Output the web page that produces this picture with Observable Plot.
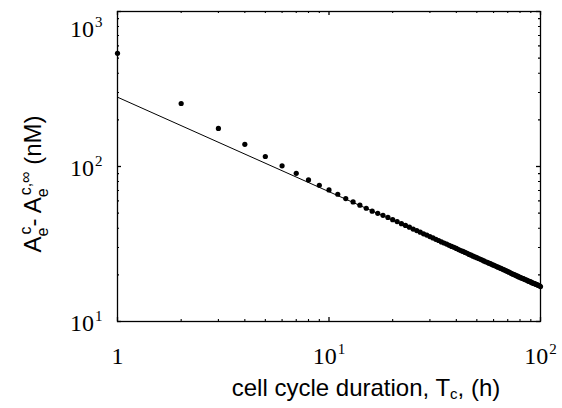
<!DOCTYPE html>
<html>
<head>
<meta charset="utf-8">
<script src="https://cdn.jsdelivr.net/npm/d3@7"></script>
<script src="https://cdn.jsdelivr.net/npm/@observablehq/plot@0.6"></script>
<style>
  html, body { margin: 0; padding: 0; background: #fff; }
  svg { display: block; }
</style>
</head>
<body>
<div id="chart"></div>
<script>
// ---- data ----
const cycleDuration = [1,2,3,4,5,6,7,8,9,10,11,12,13,14,15,16,17,18,19,20,21,22,23,24,25,26,27,28,29,30,31,32,33,34,35,36,37,38,39,40,41,42,43,44,45,46,47,48,49,50,51,52,53,54,55,56,57,58,59,60,61,62,63,64,65,66,67,68,69,70,71,72,73,74,75,76,77,78,79,80,81,82,83,84,85,86,87,88,89,90,91,92,93,94,95,96,97,98,99,100];
const deltaA = [537,255,176,139,116,101,90.4,81.9,75.7,70.6,66.2,62.1,59.1,56.3,53.8,51.5,49.9,48.4,46.9,45.4,44.1,42.8,41.7,40.6,39.5,38.6,37.7,36.8,36.1,35.3,34.6,33.9,33.3,32.6,32.1,31.6,31.0,30.5,30.1,29.6,29.1,28.7,28.3,27.9,27.5,27.1,26.8,26.4,26.1,25.8,25.5,25.2,24.9,24.6,24.3,24.1,23.8,23.6,23.3,23.1,22.9,22.6,22.4,22.2,22.0,21.8,21.6,21.4,21.2,21.0,20.8,20.6,20.4,20.2,20.1,19.9,19.7,19.6,19.4,19.3,19.1,19.0,18.9,18.7,18.6,18.5,18.3,18.2,18.1,18.0,17.8,17.7,17.6,17.5,17.4,17.3,17.2,17.1,17.0,16.8];
const fitX = [1, 100];
const fitY = [280, 16.9];
const xMajor = [1, 10, 100];
const xMinor = [2,3,4,5,6,7,8,9,20,30,40,50,60,70,80,90];
const yMajor = [10, 100, 1000];
const yMinor = [20,30,40,50,60,70,80,90,200,300,400,500,600,700,800,900];
const xTickLabels = ["1", "10^1", "10^2"];
const yTickLabels = ["10^1", "10^2", "10^3"];

const points = cycleDuration.map((x, i) => ({x, y: deltaA[i]}));
const fit = fitX.map((x, i) => ({x, y: fitY[i]}));

const W = 562, H = 408;
const mL = 117, mR = 22, mT = 11, mB = 87;
const pw = W - mL - mR, ph = H - mT - mB;
const serif = "Liberation Serif, Times New Roman, serif";

const svg = Plot.plot({
  width: W, height: H,
  marginLeft: mL, marginRight: mR, marginTop: mT, marginBottom: mB,
  style: {background: "#fff", color: "#000", overflow: "visible"},
  x: {type: "log", domain: [1, 100]},
  y: {type: "log", domain: [10, 1000]},
  marks: [
    Plot.frame({stroke: "#000", strokeWidth: 1.3}),
    // inward ticks on all four sides
    Plot.ruleX(xMajor, {insetTop: ph - 4, stroke: "#000", strokeWidth: 1.3}),
    Plot.ruleX(xMajor, {insetBottom: ph - 4, stroke: "#000", strokeWidth: 1.3}),
    Plot.ruleX(xMinor, {insetTop: ph - 2, stroke: "#000", strokeWidth: 1.1}),
    Plot.ruleX(xMinor, {insetBottom: ph - 2, stroke: "#000", strokeWidth: 1.1}),
    Plot.ruleY(yMajor, {insetRight: pw - 4, stroke: "#000", strokeWidth: 1.3}),
    Plot.ruleY(yMajor, {insetLeft: pw - 4, stroke: "#000", strokeWidth: 1.3}),
    Plot.ruleY(yMinor, {insetRight: pw - 2, stroke: "#000", strokeWidth: 1.1}),
    Plot.ruleY(yMinor, {insetLeft: pw - 2, stroke: "#000", strokeWidth: 1.1}),
    Plot.axisX({ticks: xMajor, tickSize: 0, tickPadding: 25, label: null,
      fontSize: 24, fontFamily: serif,
      tickFormat: d => xTickLabels[xMajor.indexOf(d)]}),
    Plot.axisY({ticks: yMajor, tickSize: 0, tickPadding: 15, dy: 2, label: null,
      fontSize: 24, fontFamily: serif,
      tickFormat: d => yTickLabels[yMajor.indexOf(d)]}),
    Plot.line(fit, {x: "x", y: "y", stroke: "#000", strokeWidth: 1}),
    Plot.dot(points, {x: "x", y: "y", r: 2.6, fill: "#000", stroke: "none"})
  ]
});

// superscripted tick labels (10^k)
svg.querySelectorAll('g[aria-label="x-axis tick label"] text, g[aria-label="y-axis tick label"] text').forEach(t => {
  const s = t.textContent;
  if (s.includes("^")) {
    const [base, exp] = s.split("^");
    t.textContent = "";
    const b = document.createElementNS("http://www.w3.org/2000/svg", "tspan");
    b.textContent = base;
    const e = document.createElementNS("http://www.w3.org/2000/svg", "tspan");
    e.textContent = exp;
    e.setAttribute("font-size", "15");
    e.setAttribute("dy", "-10");
    e.setAttribute("dx", "1");
    t.appendChild(b); t.appendChild(e);
  }
});

const sel = d3.select(svg);
// x axis title
const xt = sel.append("text")
  .attr("x", 366).attr("y", 396)
  .attr("text-anchor", "middle")
  .attr("font-family", "Liberation Sans, Arial, sans-serif")
  .attr("font-size", 24)
  .attr("fill", "#000");
xt.append("tspan").text("cell cycle duration, T");
xt.append("tspan").attr("font-size", 15).attr("dy", 3).text("c");
xt.append("tspan").attr("dy", -3).text(", (h)");

// y axis title
const yt = sel.append("text")
  .attr("transform", "translate(41,184) rotate(-90)")
  .attr("text-anchor", "middle")
  .attr("font-family", "Liberation Sans, Arial, sans-serif")
  .attr("font-size", 24)
  .attr("fill", "#000");
yt.append("tspan").text("A");
yt.append("tspan").attr("font-size", 16).attr("dy", 7).text("e");
yt.append("tspan").attr("font-size", 16).attr("dx", -7).attr("dy", -17).text("c");
yt.append("tspan").attr("dy", 10).text("- A");
yt.append("tspan").attr("font-size", 16).attr("dy", 7).text("e");
yt.append("tspan").attr("font-size", 16).attr("dx", -7).attr("dy", -17).text("c,∞");
yt.append("tspan").attr("dy", 10).text(" (nM)");

document.getElementById("chart").appendChild(svg);

// keep the top y tick label inside the picture, as in the reference
const svgTop = svg.getBoundingClientRect().top;
svg.querySelectorAll('g[aria-label="y-axis tick label"] text').forEach(t => {
  const top = t.getBoundingClientRect().top - svgTop;
  const minTop = 14;
  if (top < minTop) {
    const shift = minTop - top;
    const prev = t.getAttribute("transform") || "";
    t.setAttribute("transform", prev + ` translate(0,${shift})`);
  }
});
</script>
</body>
</html>
